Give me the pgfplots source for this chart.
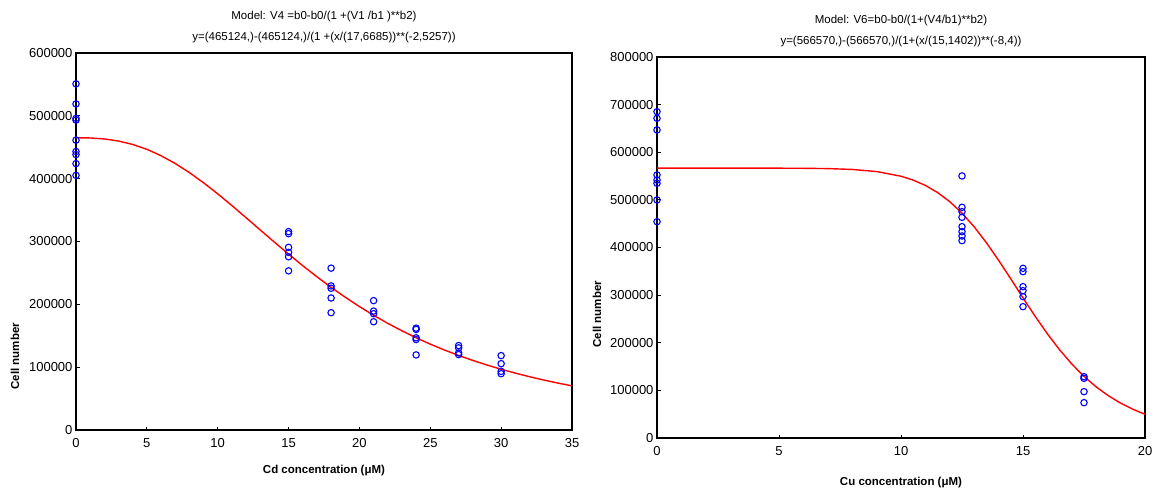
\documentclass[border=0pt]{standalone}
\usepackage{pgfplots}
\pgfplotsset{compat=1.18}
\usepackage{fontspec}
\setmainfont{Liberation Sans}
\pgfplotsset{
  myaxis/.style={
    scale only axis,
    axis line style={line width=1.3pt},
    tick style={black, line width=1pt},
    tick align=inside,
    major tick length=3.5pt,
    xtick pos=bottom, ytick pos=left,
    scaled ticks=false,
    /pgf/number format/fixed,
    /pgf/number format/set thousands separator={},
    /pgf/number format/assume math mode=true,
    tick label style={font=\fontsize{13}{15}\selectfont},
    xticklabel style={yshift=-5pt},
    title style={font=\fontsize{11.5}{21}\selectfont, align=center, at={(0.5,1)}, anchor=south, yshift=1pt},
    label style={font=\fontsize{11.5}{13}\selectfont\bfseries},
  },
  dat/.style={only marks, mark=o, mark size=3.2pt, blue, line width=1.1pt},
  fit/.style={no marks, red, line width=1.4pt},
}
\begin{document}
\begin{tikzpicture}
\path[use as bounding box] (0pt,0pt) rectangle (1156pt,488pt);
% ---------- Left: Cd ----------
\begin{axis}[myaxis,
  at={(76pt,58pt)}, anchor=south west,
  width=496pt, height=377pt,
  xmin=0, xmax=35, ymin=0, ymax=600000,
  xtick={0,5,...,35},
  ytick={0,100000,...,600000},
  title={Model: V4 =b0-b0/(1 +(V1 /b1 )**b2)\\y=(465124,)-(465124,)/(1 +(x/(17,6685))**(-2,5257))},
  xlabel={Cd concentration (μM)},
  xlabel style={at={(axis description cs:0.5,0)}, anchor=center, yshift=-41pt},
  ylabel={Cell number},
  ylabel style={at={(axis description cs:-0.123,0.196)}, anchor=center},
]
\addplot[fit] coordinates {
(0,465124) (1,464795) (2,463236) (3,459904) (4,454458) (5,446701) (6,436581)
(7,424181) (8,409727) (9,393502) (10,375853) (11,357181) (12,337889)
(13,318404) (14,298979) (15,279945) (16,261510) (17,243867) (18,227065)
(19,211280) (20,196441) (21,182614) (22,169724) (23,157829) (24,146806)
(25,136660) (26,127302) (27,118687) (28,110750) (29,103441) (30,96715)
(31,90523) (32,84830) (33,79571) (34,74710) (35,70244)};
\addplot[dat] coordinates {
(0,550900) (0,518900) (0,496000) (0,493300) (0,461300) (0,443200) (0,438400) (0,424000) (0,405300)
(15,315700) (15,312500) (15,290700) (15,282700) (15,275700) (15,253300)
(18,257600) (18,229300) (18,225600) (18,210100) (18,186700)
(21,205900) (21,189300) (21,185100) (21,172300)
(24,162100) (24,160000) (24,146700) (24,144000) (24,119500)
(27,134400) (27,130700) (27,122700) (27,120000)
(30,118400) (30,105600) (30,93300) (30,89600)};
\end{axis}
% ---------- Right: Cu ----------
\begin{axis}[myaxis,
  at={(657pt,50pt)}, anchor=south west,
  width=488pt, height=381pt,
  xmin=0, xmax=20, ymin=0, ymax=800000,
  xtick={0,5,...,20},
  ytick={0,100000,...,800000},
  title={Model: V6=b0-b0/(1+(V4/b1)**b2)\\y=(566570,)-(566570,)/(1+(x/(15,1402))**(-8,4))},
  xlabel={Cu concentration (μM)},
  xlabel style={at={(axis description cs:0.5,0)}, anchor=center, yshift=-45pt},
  ylabel={Cell number},
  ylabel style={at={(axis description cs:-0.123,0.325)}, anchor=center},
]
\addplot[fit] coordinates {
(0,566570) (5,566550) (6,566330) (7,565700) (8,563914) (9,559487) (10,549689)
(10.5,541520) (11,530323) (11.5,515400) (12,496120) (12.5,472142) (13,443323)
(13.5,409998) (14,373111) (14.5,334121) (15,294231) (15.5,255419) (16,218653)
(16.5,185087) (17,155331) (17.5,129426) (18,107299) (18.5,88695) (19,73231)
(19.5,60390) (20,49845)};
\addplot[dat] coordinates {
(0,685200) (0,671300) (0,646800) (0,552300) (0,541800) (0,534800) (0,499800) (0,454200)
(12.5,550200) (12.5,484400) (12.5,475300) (12.5,463400) (12.5,443800) (12.5,433300) (12.5,424200) (12.5,414400)
(15,356300) (15,349300) (15,317800) (15,309400) (15,296800) (15,275800)
(17.5,128800) (17.5,125300) (17.5,97300) (17.5,74200)};
\end{axis}
\end{tikzpicture}
\end{document}
